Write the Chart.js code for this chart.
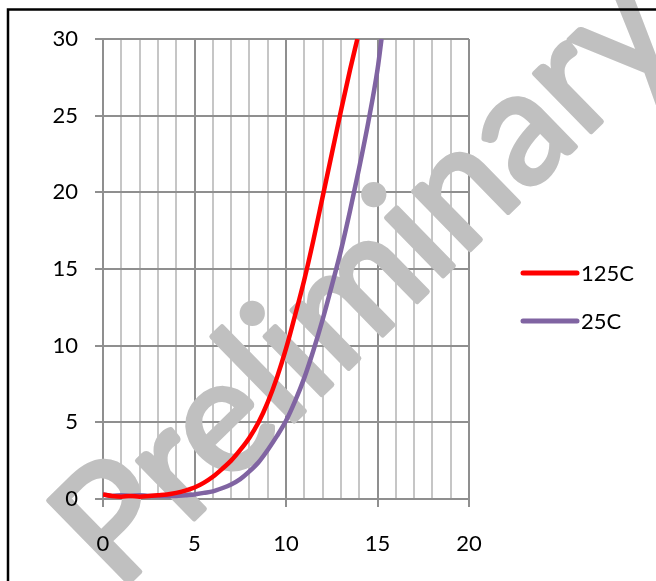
<!DOCTYPE html>
<html>
<head>
<meta charset="utf-8">
<script src="https://cdn.jsdelivr.net/npm/chart.js@4/dist/chart.umd.min.js"></script>
<style>
  html, body { margin: 0; padding: 0; background: #fff; }
  #wrap { width: 656px; height: 581px; position: relative; }
</style>
</head>
<body>
<div id="wrap"><canvas id="curveChart"></canvas></div>
<script>
// 125C curve
const x125 = [0, 0.5, 1, 1.5, 2, 2.5, 3, 3.5, 4, 4.5, 5, 5.5, 6, 6.5, 7, 7.5, 8, 8.5, 9, 9.5, 10, 10.5, 11, 11.5, 12, 12.5, 13, 13.5, 13.9];
const y125 = [0.3, 0.2, 0.15, 0.2, 0.15, 0.2, 0.25, 0.3, 0.4, 0.55, 0.75, 1.05, 1.45, 1.95, 2.5, 3.2, 4.0, 5.0, 6.3, 7.9, 9.8, 12.0, 14.3, 16.9, 19.7, 22.5, 25.3, 28.0, 30];

// 25C curve
const x25 = [0, 0.5, 1, 1.5, 2, 2.5, 3, 3.5, 4, 4.5, 5, 5.5, 6, 6.5, 7, 7.5, 8, 8.5, 9, 9.5, 10, 10.5, 11, 11.5, 12, 12.5, 13, 13.5, 14, 14.5, 15, 15.22];
const y25 = [0.3, 0.2, 0.25, 0.2, 0.25, 0.2, 0.2, 0.2, 0.2, 0.25, 0.3, 0.4, 0.5, 0.7, 0.95, 1.3, 1.8, 2.4, 3.2, 4.1, 5.1, 6.4, 7.9, 9.7, 11.7, 13.9, 16.2, 18.8, 21.6, 24.6, 28.0, 30];

const seriesLabels = ["125C", "25C"];
const seriesColors = ["#ff0000", "#8064a2"];
const watermarkText = "Preliminary";

const FONT = "Lato, 'Open Sans', sans-serif";
const MAJOR = "#8f8f8f";
const MINOR = "#c6c6c6";

const toPoints = (xs, ys) => xs.map((x, i) => ({ x: x, y: ys[i] }));

// gray watermark, under the curves but over the grid
const watermark = {
  id: "watermark",
  beforeDatasetsDraw(chart) {
    const ctx = chart.ctx;
    ctx.save();
    ctx.font = "160px " + FONT;
    const w = ctx.measureText(watermarkText).width;
    const size = 160 * 790 / w;
    ctx.font = size + "px " + FONT;
    ctx.fillStyle = "#c0c0c0";
    ctx.strokeStyle = "#c0c0c0";
    ctx.lineWidth = 5;
    ctx.lineJoin = "round";
    ctx.textAlign = "center";
    ctx.textBaseline = "alphabetic";
    ctx.translate(401, 317);
    ctx.rotate(-44.3 * Math.PI / 180);
    ctx.fillText(watermarkText, 0, 0);
    ctx.strokeText(watermarkText, 0, 0);
    ctx.restore();
  }
};

// legend lines on the right plus the page frame
const sideLegend = {
  id: "sideLegend",
  afterDraw(chart) {
    const ctx = chart.ctx;
    ctx.save();
    chart.data.datasets.forEach((ds, i) => {
      const y = 273 + i * 48;
      ctx.strokeStyle = ds.borderColor;
      ctx.lineWidth = 5;
      ctx.lineCap = "round";
      ctx.beginPath();
      ctx.moveTo(523, y);
      ctx.lineTo(577, y);
      ctx.stroke();
      ctx.fillStyle = "#000";
      ctx.font = "22px " + FONT;
      ctx.textBaseline = "middle";
      ctx.textAlign = "left";
      ctx.fillText(ds.label, 581, y + 1);
    });
    ctx.strokeStyle = "#000";
    ctx.lineWidth = 2.5;
    ctx.strokeRect(8, 9.5, 700, 700);
    ctx.restore();
  }
};

new Chart(document.getElementById("curveChart"), {
  type: "line",
  data: {
    datasets: [
      {
        label: seriesLabels[0],
        data: toPoints(x125, y125),
        borderColor: seriesColors[0],
        borderWidth: 4.5,
        pointRadius: 0,
        cubicInterpolationMode: "monotone",
        fill: false
      },
      {
        label: seriesLabels[1],
        data: toPoints(x25, y25),
        borderColor: seriesColors[1],
        borderWidth: 4.5,
        pointRadius: 0,
        cubicInterpolationMode: "monotone",
        fill: false
      }
    ]
  },
  options: {
    responsive: true,
    maintainAspectRatio: false,
    animation: false,
    layout: { padding: { top: 39, right: 187, left: 0, bottom: 0 } },
    plugins: { legend: { display: false }, tooltip: { enabled: false } },
    scales: {
      x: {
        type: "linear",
        min: 0,
        max: 20,
        afterFit: (s) => { s.height = 82; },
        ticks: {
          stepSize: 1,
          autoSkip: false,
          maxRotation: 0,
          padding: 24,
          color: "#000",
          font: { family: FONT, size: 22 },
          z: 1,
          callback: (v) => (v % 5 === 0 ? v : "")
        },
        grid: {
          lineWidth: 2,
          tickLength: 8,
          color: (c) => (c.tick && c.tick.value % 5 === 0 ? MAJOR : MINOR),
          tickColor: (c) => (c.tick && c.tick.value % 5 === 0 ? MAJOR : "rgba(0,0,0,0)")
        },
        border: { color: MAJOR, width: 2 }
      },
      y: {
        min: 0,
        max: 30,
        afterFit: (s) => { s.width = 103; },
        ticks: {
          stepSize: 5,
          padding: 17,
          color: "#000",
          font: { family: FONT, size: 22 },
          z: 1
        },
        grid: { lineWidth: 2, tickLength: 8, color: MAJOR, tickColor: MAJOR },
        border: { color: MAJOR, width: 2 }
      }
    }
  },
  plugins: [watermark, sideLegend]
});
</script>
</body>
</html>
